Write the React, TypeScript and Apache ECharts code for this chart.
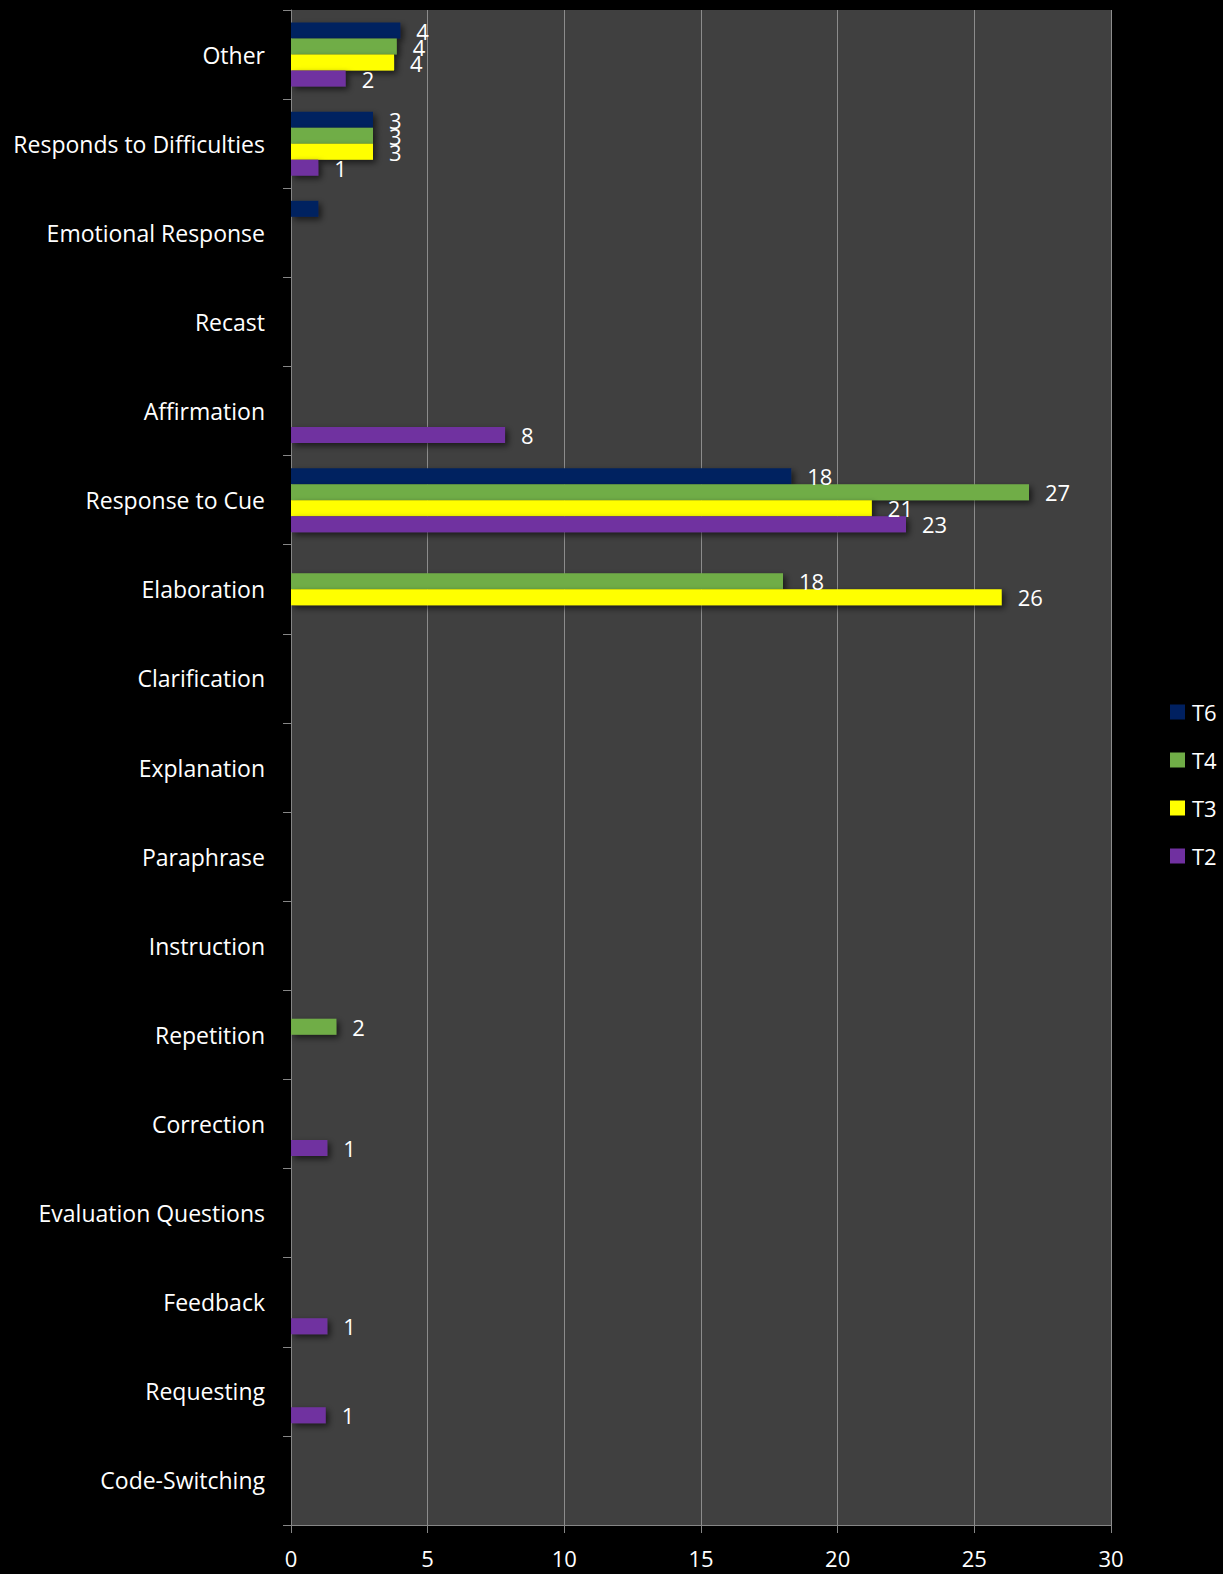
import React, { useEffect, useRef } from "react";
import * as echarts from "echarts";

const categories = [
  "Other",
  "Responds to Difficulties",
  "Emotional Response",
  "Recast",
  "Affirmation",
  "Response to Cue",
  "Elaboration",
  "Clarification",
  "Explanation",
  "Paraphrase",
  "Instruction",
  "Repetition",
  "Correction",
  "Evaluation Questions",
  "Feedback",
  "Requesting",
  "Code-Switching",
];

const seriesNames = ["T6", "T4", "T3", "T2"];
const seriesColors = ["#002060", "#70AD47", "#FFFF00", "#7030A0"];

const T6 = [4, 3, 1, null, null, 18.3, null, null, null, null, null, null, null, null, null, null, null];
const T4 = [3.87, 3, null, null, null, 27, 18, null, null, null, null, 1.66, null, null, null, null, null];
const T3 = [3.77, 3, null, null, null, 21.25, 26, null, null, null, null, null, null, null, null, null, null];
const T2 = [2, 1, null, null, 7.83, 22.5, null, null, null, null, null, null, 1.33, null, 1.33, 1.27, null];

// points drawn without a data label in the reference
const unlabeled: Array<[string, string]> = [["T6", "Emotional Response"]];

const xTicks = { min: 0, max: 30, interval: 5 };

const FONT = "Open Sans";

export default function App() {
  const ref = useRef<HTMLDivElement>(null);
  useEffect(() => {
    if (!ref.current) return;
    const chart = echarts.init(ref.current, undefined, { renderer: "svg" });
    const allValues = [T6, T4, T3, T2];
    const series = seriesNames.map((name, si) => ({
      name,
      type: "bar",
      barWidth: 16,
      barGap: "0%",
      itemStyle: {
        color: seriesColors[si],
        shadowColor: "rgba(0,0,0,0.6)",
        shadowBlur: 6,
        shadowOffsetX: 3,
        shadowOffsetY: 3,
      },
      label: {
        show: true,
        position: "right",
        distance: 16,
        color: "#ffffff",
        fontSize: 22,
        fontFamily: FONT,
        formatter: (p: any) => String(Math.round(p.value)),
      },
      data: allValues[si].map((v, ci) => {
        if (v === null) return null;
        const hide = unlabeled.some(([s, c]) => s === name && c === categories[ci]);
        return hide ? { value: v, label: { show: false } } : v;
      }),
    }));
    chart.setOption({
      animation: false,
      backgroundColor: "#000000",
      textStyle: { fontFamily: FONT },
      grid: {
        left: 291,
        right: 112,
        top: 10,
        bottom: 49,
        show: true,
        backgroundColor: "#404040",
        borderWidth: 0,
        containLabel: false,
        outerBoundsMode: "none",
      },
      legend: {
        orient: "vertical",
        left: 1165,
        top: 696,
        itemWidth: 15,
        itemHeight: 15,
        itemGap: 26,
        icon: "rect",
        data: seriesNames,
        textStyle: { color: "#ffffff", fontSize: 22, fontFamily: FONT, padding: [0, 0, 0, 2] },
      },
      xAxis: {
        type: "value",
        min: xTicks.min,
        max: xTicks.max,
        interval: xTicks.interval,
        axisLine: { show: true, lineStyle: { color: "#868686", width: 1 } },
        axisTick: { show: true, length: 8, lineStyle: { color: "#868686" } },
        splitLine: { show: true, lineStyle: { color: "#8c8c8c", width: 1 } },
        axisLabel: { color: "#ffffff", fontSize: 22, fontFamily: FONT, margin: 22 },
      },
      yAxis: {
        type: "category",
        inverse: true,
        data: categories,
        axisLine: { show: true, lineStyle: { color: "#868686", width: 1 } },
        axisTick: { show: true, length: 8, lineStyle: { color: "#868686" } },
        splitLine: { show: false },
        axisLabel: {
          color: "#ffffff",
          fontSize: 23,
          fontFamily: FONT,
          margin: 26,
          padding: [0, 0, 4, 0],
        },
      },
      series,
    });
    return () => chart.dispose();
  }, []);
  return (
    <div
      ref={ref}
      style={{ position: "absolute", left: 0, top: 0, width: 1223, height: 1574 }}
    />
  );
}
